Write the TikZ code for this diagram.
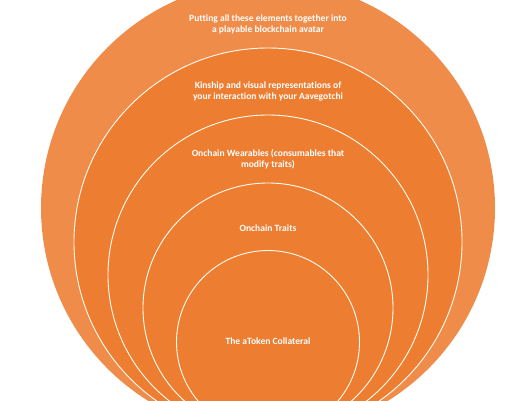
\documentclass[tikz,border=0pt]{standalone}
\usepackage{fontspec}
\setmainfont[Ligatures=NoCommon]{Carlito}
\usetikzlibrary{positioning}
\definecolor{ringouter}{RGB}{240,140,74}
\definecolor{ringinner}{RGB}{237,125,49}

\begin{document}
\begin{tikzpicture}[x=1bp, y=-1bp,
  ring/.style={circle, draw=white!95!yellow, line width=0.9bp, fill=ringinner, inner sep=0pt},
  lbl/.style={text=white, font=\bfseries\fontsize{9.6}{11}\selectfont, align=center, inner sep=0pt}]
  \useasboundingbox (0,0) rectangle (520,400);
  \clip (0,0) rectangle (520,400);
  \node[ring, draw=none, fill=ringouter, minimum size=454bp] (avatar) at (268,208) {};
  \node[ring, minimum size=388bp] (kinship) at (268,242) {};
  \node[ring, minimum size=320bp] (wearables) at (268,275) {};
  \node[ring, minimum size=250bp] (traits) at (268,308) {};
  \node[ring, minimum size=183bp] (collateral) at (268,342) {};
  \node[lbl] (avatartxt) at (268,24) {Putting all these elements together into\\a playable blockchain avatar};
  \node[lbl] (kinshiptxt) at (268,91) {Kinship and visual representations of\\your interaction with your Aavegotchi};
  \node[lbl] (wearablestxt) at (268,159) {Onchain Wearables (consumables that\\modify traits)};
  \node[lbl] (traitstxt) at (268,228) {Onchain Traits};
  \node[lbl] (collateraltxt) at (268,341) {The aToken Collateral};
\end{tikzpicture}
\end{document}
